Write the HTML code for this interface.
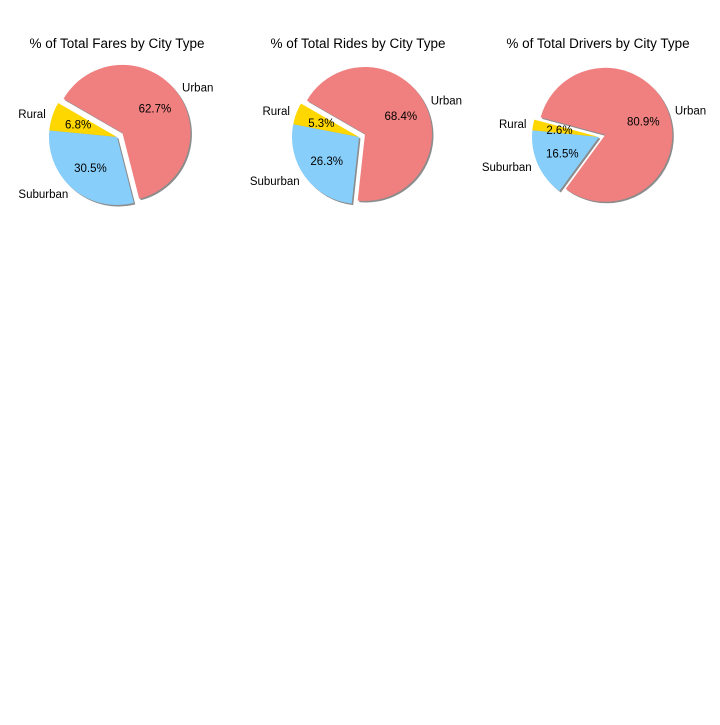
<!DOCTYPE html>
<html><head><meta charset="utf-8"><style>
body{margin:0;background:#fff}
svg text{font-family:"Liberation Sans","DejaVu Sans",sans-serif}
</style></head><body>
<svg id="chart" width="720" height="720" viewBox="0 0 720 720" xmlns="http://www.w3.org/2000/svg"></svg>
<script>
const titles = ["% of Total Fares by City Type","% of Total Rides by City Type","% of Total Drivers by City Type"];
const categories = ["Rural","Suburban","Urban"];
const faresPct = [6.8, 30.5, 62.7];
const ridesPct = [5.3, 26.3, 68.4];
const driversPct = [2.6, 16.5, 80.9];
const startAngles = [150, 150, 165];
const colors = ["#ffd700","#87cefa","#f08080"];
const explode = [0, 0, 0.1];
const series = [faresPct, ridesPct, driversPct];
const layout = [{cx:117,cy:137,r:68,tx:117},{cx:359,cy:137,r:67,tx:358},{cx:599,cy:137,r:67,tx:598}];
const svg = document.getElementById('chart');
const NS = "http://www.w3.org/2000/svg";
function mk(tag, attrs){const e=document.createElementNS(NS,tag);for(const k in attrs)e.setAttribute(k,attrs[k]);return e;}
function wedgePath(cx,cy,r,a0,a1){
  const p=(a)=>[cx+r*Math.cos(a*Math.PI/180), cy-r*Math.sin(a*Math.PI/180)];
  const [x0,y0]=p(a0),[x1,y1]=p(a1);const large=(a1-a0)>180?1:0;
  return `M${cx},${cy} L${x0},${y0} A${r},${r} 0 ${large} 0 ${x1},${y1} Z`;
}
series.forEach((vals, si)=>{
  const L = layout[si];
  const g = mk('g',{});
  
  
  svg.appendChild(g);
  const t = mk('text',{x:L.tx,y:48,'text-anchor':'middle','font-size':13.5,fill:'#000'});
  
  
  t.textContent = titles[si]; g.appendChild(t);
  const total = vals.reduce((a,b)=>a+b,0);
  let a = startAngles[si];
  const wedges=[];
  vals.forEach((v,i)=>{
    const span = v/total*360; const a0=a, a1=a+span; a=a1;
    const mid=(a0+a1)/2*Math.PI/180;
    const off=explode[i]*L.r;
    const cx=L.cx+off*Math.cos(mid), cy=L.cy-off*Math.sin(mid);
    wedges.push({i,v,a0,a1,mid,cx,cy});
  });
  wedges.forEach(w=>{
    const s = mk('path',{d:wedgePath(w.cx+1.5,w.cy+1.5,L.r,w.a0,w.a1),fill:'#000','fill-opacity':0.45});
    
    
    g.appendChild(s);
  });
  wedges.forEach(w=>{
    const p = mk('path',{d:wedgePath(w.cx,w.cy,L.r,w.a0,w.a1),fill:colors[w.i]});
    
    
    g.appendChild(p);
  });
  wedges.forEach(w=>{
    const lx=w.cx+1.1*L.r*Math.cos(w.mid), ly=w.cy-1.1*L.r*Math.sin(w.mid);
    const lt = mk('text',{x:lx,y:ly+4,'text-anchor':Math.cos(w.mid)<0?'end':'start','font-size':11.5,fill:'#000'});
    
    
    lt.textContent=categories[w.i]; g.appendChild(lt);
    const px=w.cx+0.6*L.r*Math.cos(w.mid), py=w.cy-0.6*L.r*Math.sin(w.mid);
    const pt = mk('text',{x:px,y:py+4,'text-anchor':'middle','font-size':11.5,fill:'#000'});
    
    
    pt.textContent=w.v.toFixed(1)+'%'; g.appendChild(pt);
  });
});
</script>
</body></html>
